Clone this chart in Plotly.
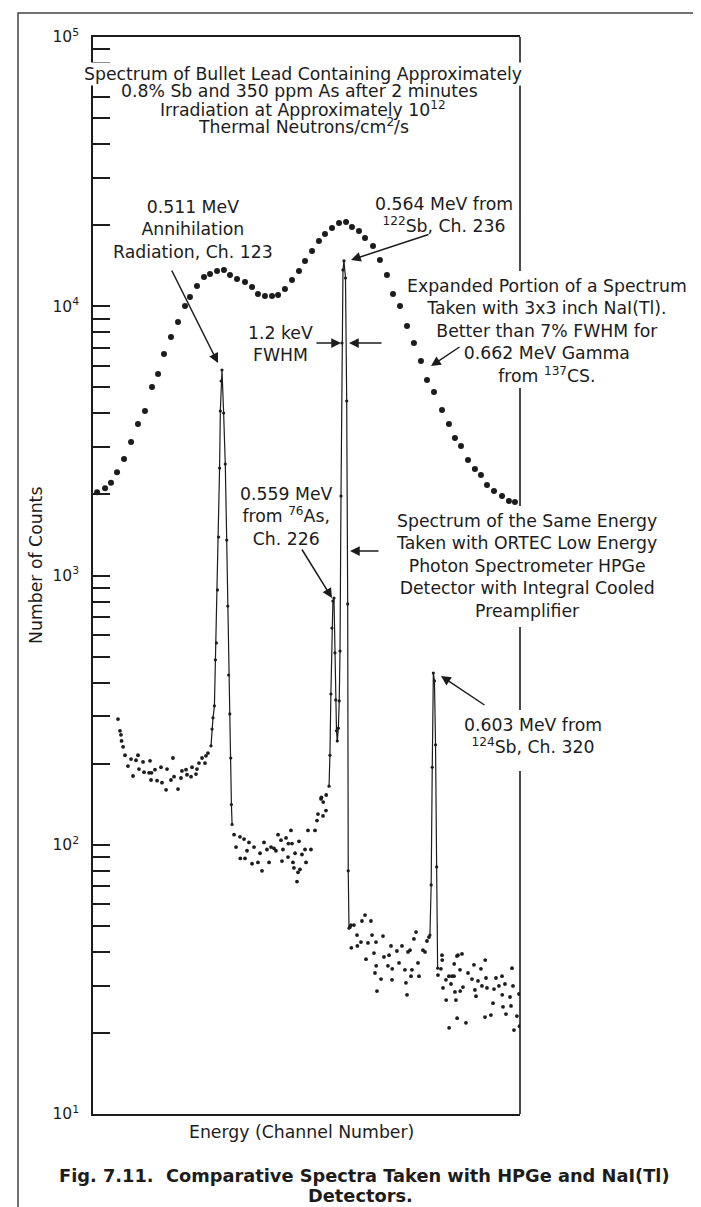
import plotly.graph_objects as go

# ---------------- data (channel number, counts) ----------------
# NaI(Tl) 3x3 inch spectrum (large dots)
nai_channel = [10.0, 17.3, 22.7, 28.2, 34.6, 41.0, 47.3, 53.7, 60.1, 65.6, 71.0, 77.4, 83.8,
               90.2, 94.7, 101.1, 107.5, 113.0, 119.4, 125.7, 131.2, 137.6, 144.9,
               151.3, 156.7, 163.1, 169.5, 175.0, 181.3, 187.7, 194.1, 199.6, 206.0,
               212.3, 217.8, 224.2, 230.6, 237.0, 242.4, 248.8, 254.3, 261.6, 267.9,
               274.3, 279.8, 286.2, 292.6, 298.9, 305.3, 310.8, 317.2, 324.5, 330.8,
               336.3, 341.8, 348.2, 354.5, 360.0, 365.5, 371.9, 379.2, 385.5, 391.0]
nai_counts = [2040, 2110, 2210, 2420, 2710, 3130, 3650, 4080, 5010, 5600, 6650, 7690, 8740,
              10020, 10820, 11890, 12840, 13180, 13520, 13640, 13060, 12620, 12310,
              11790, 11100, 10920, 10920, 11010, 11590, 12520, 13520, 14730, 16040,
              17470, 18550, 19530, 20380, 20560, 19700, 19030, 17930, 16740, 14850,
              13060, 11100, 10020, 8445, 7304, 6263, 5323, 4803, 4118, 3650,
              3241, 3027, 2685, 2486, 2362, 2168, 2060, 1974, 1891, 1875]

# HPGe spectrum - background regions (dots only)
bg1_channel = [29.1, 30.9, 31.8, 32.3, 33.7, 35.5, 38.2, 41.0, 42.8, 45.5, 47.3, 48.2, 51.9, 52.8,
               57.4, 58.3, 59.2, 59.6, 62.8, 64.7, 68.3, 69.2, 72.9, 73.8, 77.4, 79.2, 80.2,
               83.8, 86.5, 87.4, 91.1, 92.0, 95.7, 96.6, 100.2, 101.1, 102.9, 105.7, 108.4,
               109.3, 111.1]
bg1_counts = [293, 265, 256, 243, 231, 215, 196, 208, 180, 206, 215, 191, 203, 186,
              185, 205, 174, 185, 190, 173, 194, 170, 160, 191, 174, 210, 179,
              161, 177, 188, 190, 182, 179, 194, 183, 191, 201, 210, 201,
              214, 219]

bg2_channel = [134.9, 136.7, 140.3, 140.6, 144.0, 144.9, 146.7, 148.5, 151.3, 153.1, 156.7, 158.6,
               160.4, 162.2, 164.9, 166.8, 168.6, 171.3, 173.1, 175.0, 177.7, 178.6, 179.5,
               182.3, 184.1, 184.4, 186.8, 187.7, 188.6, 189.5, 190.5, 192.3, 193.2, 194.1,
               195.0, 196.8, 199.6, 200.5, 202.3, 205.0, 208.7, 210.5, 211.4, 214.2, 214.5,
               216.0, 216.2, 218.7, 218.9]
bg2_counts = [109, 98, 107, 89, 105, 89, 95, 102, 85, 98, 86, 93,
              80, 102, 96, 86, 98, 97, 95, 109, 104, 87, 96,
              106, 90, 101, 113, 101, 86, 82, 93, 73, 79, 103,
              81, 92, 96, 86, 113, 96, 113, 123, 130, 148, 150,
              128, 144, 134, 153]

bg3_channel = [240.6, 241.5, 241.8, 244.2, 247.0, 247.3, 250.6, 251.5, 254.3, 255.2, 257.0, 259.7,
               260.7, 262.5, 263.4, 264.3, 264.5, 265.2, 268.9, 270.7, 271.6, 275.2, 276.2,
               278.0, 278.9, 279.1, 283.4, 285.3, 288.0, 290.7, 291.6, 292.6, 293.5, 295.3,
               296.2, 297.1, 298.9, 300.8, 302.6, 303.5, 307.1, 309.0, 310.8, 312.6]
bg3_counts = [49.5, 50.3, 41.4, 50.3, 46.2, 42.1, 43.5, 52.1, 54.8, 37.6, 43.2, 52.1,
              46.2, 39.6, 33.4, 43.5, 35.5, 28.6, 31.7, 45.8, 38.3, 35.5, 38.9,
              42.1, 31.5, 34.6, 40.3, 36.4, 42.1, 34.3, 30.7, 27.7, 40.0, 40.6,
              32.5, 34.3, 44.7, 47.4, 36.4, 32.5, 40.6, 40.0, 43.9, 45.4]

bg4_channel = [320.8, 323.5, 324.5, 324.7, 325.4, 328.1, 328.3, 330.8, 331.0, 332.7, 333.6, 335.4,
               335.6, 336.3, 337.2, 338.1, 339.0, 338.3, 340.9, 341.1, 342.7, 343.6, 346.3,
               348.2, 351.8, 353.6, 354.5, 355.5, 357.3, 360.0, 360.9, 363.7, 363.9, 364.6,
               365.5, 369.1, 371.0, 371.9, 373.7, 376.4, 379.2, 379.4, 380.1, 381.9, 382.8,
               386.5, 387.4, 388.3, 389.2, 390.1, 392.8, 394.7, 395.2]
bg4_counts = [32.8, 34.6, 38.9, 37.3, 29.4, 31.5, 26.5, 32.5, 20.9, 30.4, 32.5, 32.5,
              36.1, 28.4, 26.5, 38.6, 38.9, 22.7, 34.3, 28.6, 39.3, 29.6, 21.8,
              33.4, 31.7, 35.8, 28.9, 27.4, 31.2, 34.6, 29.9, 22.9, 37.3, 32.0,
              29.4, 23.3, 25.8, 29.1, 32.0, 29.9, 32.5, 27.7, 25.0, 30.4, 23.5,
              27.2, 25.2, 34.8, 29.9, 20.5, 23.1, 27.9, 21.2]

# HPGe spectrum - peak regions (connected)
pk1_channel = [113.9, 114.8, 115.7, 117.0, 117.9, 118.8, 119.8, 120.8, 121.7, 122.4, 123.1, 123.9,
               125.4, 126.9, 128.2, 129.2, 130.0, 131.0, 131.9, 132.5, 133.1]
pk1_counts = [233, 269, 296, 328, 486, 562, 884, 1390, 2507, 4083, 5278, 5798,
              4013, 2595, 1354, 770, 427, 306, 210, 141, 119]

pk2_channel = [221.5, 222.3, 223.2, 224.1, 225.0, 226.0, 226.9, 227.6, 228.3, 229.0, 230.0,
               230.8, 231.5, 232.4, 233.3, 234.2, 235.1, 236.5, 237.6, 238.5, 239.0, 239.7]
pk2_counts = [165, 215, 363, 638, 804, 825, 516, 345, 265, 243, 271,
              342, 524, 1974, 7304, 13640, 14730, 12730, 4447, 784, 80, 49]

pk3_channel = [313.5, 314.6, 315.6, 316.6, 317.6, 318.6, 319.6, 320.5]
pk3_counts = [46.2, 70.9, 194, 434, 406, 235, 82.7, 34.8]

y_tick_exponents = [1, 2, 3, 4, 5]
y_minor_mults = [2, 3, 4, 5, 6, 7, 8, 9]

# ---------------- layout helpers ----------------
W, H = 701, 1207
L, R, T, B = 85, 512, 29, 1106
INK = "#1c1c1c"
FONT = "DejaVu Sans"
FS = 17.3


def px(x):
    return (x - L) / (R - L)


def py(y):
    return (B - y) / (B - T)


fig = go.Figure()

for cx, cy in [(bg1_channel, bg1_counts), (bg2_channel, bg2_counts),
               (bg3_channel, bg3_counts), (bg4_channel, bg4_counts)]:
    fig.add_trace(go.Scatter(x=cx, y=cy, mode="markers",
                             marker=dict(size=3.8, color=INK, line=dict(width=0)),
                             hoverinfo="skip"))

for cx, cy in [(pk1_channel, pk1_counts), (pk2_channel, pk2_counts), (pk3_channel, pk3_counts)]:
    fig.add_trace(go.Scatter(x=cx, y=cy, mode="lines+markers",
                             line=dict(color=INK, width=1.2),
                             marker=dict(size=3.2, color=INK, line=dict(width=0)),
                             hoverinfo="skip"))

fig.add_trace(go.Scatter(x=nai_channel, y=nai_counts, mode="markers",
                         marker=dict(size=6, color=INK, line=dict(width=0)),
                         hoverinfo="skip"))

major_vals = [10 ** e for e in y_tick_exponents]
major_text = [f"10<sup>{e}</sup>" for e in y_tick_exponents]
minor_vals = [m * 10 ** e for e in y_tick_exponents[:-1] for m in y_minor_mults]

fig.update_layout(
    width=W, height=H, autosize=False,
    margin=dict(l=L, r=W - R, t=T, b=H - B, pad=0),
    paper_bgcolor="white", plot_bgcolor="white",
    showlegend=False,
    font=dict(family=FONT, size=FS, color=INK),
    xaxis=dict(range=[6.3, 395.6], showline=True, mirror=True, linecolor=INK, linewidth=1.6,
               showticklabels=False, ticks="", showgrid=False, zeroline=False, fixedrange=True),
    yaxis=dict(type="log", range=[1, 5], tickmode="array", tickvals=major_vals, ticktext=major_text,
               ticks="inside", ticklen=17, tickwidth=1.5, tickcolor=INK,
               minor=dict(tickmode="array", tickvals=minor_vals, ticks="inside", ticklen=17,
                          tickwidth=1.5, tickcolor=INK, showgrid=False),
               showline=True, linecolor=INK, linewidth=1.6, showgrid=False, zeroline=False,
               tickfont=dict(family=FONT, size=15.5, color=INK), ticklabelstandoff=9,
               fixedrange=True),
)

shapes = []
# right spine with gaps where labels cross it
for y0, y1 in [(29, 263), (380, 498), (619, 702), (763, 1106)]:
    shapes.append(dict(type="line", xref="paper", yref="paper", x0=1, x1=1,
                       y0=py(y0), y1=py(y1), line=dict(color=INK, width=1.6)))
# outer frame of the figure
shapes.append(dict(type="rect", xref="paper", yref="paper", x0=px(10), x1=px(695),
                   y0=py(1220), y1=py(5), line=dict(color="#444", width=1.5)))
fig.update_layout(shapes=shapes)

ann = []


def text(x, y, s, bold=False, bg=None, angle=0, size=FS):
    d = dict(xref="paper", yref="paper", x=px(x), y=py(y),
             text=("<b>" + s + "</b>") if bold else s, showarrow=False,
             xanchor="center", yanchor="middle", align="center", textangle=angle,
             font=dict(family=FONT, size=size, color=INK))
    if bg:
        d["bgcolor"] = bg
        d["borderpad"] = 1
    ann.append(d)


def arrow(tip, tail):
    ann.append(dict(xref="paper", yref="paper", x=px(tip[0]), y=py(tip[1]),
                    ax=tail[0] - tip[0], ay=tail[1] - tip[1], text="", showarrow=True,
                    arrowhead=2, arrowsize=1.3, arrowwidth=1.5, arrowcolor=INK, standoff=0))


text(295, 66, "Spectrum of Bullet Lead Containing Approximately", bg="white")
text(291, 83.5, "0.8% Sb and 350 ppm As after 2 minutes")
text(295, 101, "Irradiation at Approximately 10<sup>12</sup>")
text(295, 118, "Thermal Neutrons/cm<sup>2</sup>/s")

text(185, 221.5, "0.511 MeV<br>Annihilation<br>Radiation, Ch. 123")
text(436, 207, "0.564 MeV from<br><sup>122</sup>Sb, Ch. 236")
text(272.5, 336, "1.2 keV<br>FWHM")
text(538.5, 322.5, "Expanded Portion of a Spectrum<br>Taken with 3x3 inch NaI(Tl).<br>"
                   "Better than 7% FWHM for<br>0.662 MeV Gamma<br>from <sup>137</sup>CS.")
text(278, 508.5, "0.559 MeV<br>from <sup>76</sup>As,<br>Ch. 226")
text(518.5, 558, "Spectrum of the Same Energy<br>Taken with ORTEC Low Energy<br>"
                 "Photon Spectrometer HPGe<br>Detector with Integral Cooled<br>Preamplifier")
text(524.5, 728, "0.603 MeV from<br><sup>124</sup>Sb, Ch. 320")

text(28, 557, "Number of Counts", angle=-90)
text(293, 1124, "Energy (Channel Number)")
text(356, 1167, "Fig. 7.11.\u00a0 Comparative Spectra Taken with HPGe and NaI(Tl)", bold=True, size=17.8)
text(352, 1187, "Detectors.", bold=True, size=17.8)

arrow((210, 355), (163, 261))
arrow((343, 252), (422, 226))
arrow((333, 335), (307, 335))
arrow((341, 335), (375, 335))
arrow((423, 358), (453, 338))
arrow((324, 590), (293, 540))
arrow((342, 543), (372, 543))
arrow((433, 668), (478, 698))

fig.update_layout(annotations=ann)

fig.write_html("out.html")
